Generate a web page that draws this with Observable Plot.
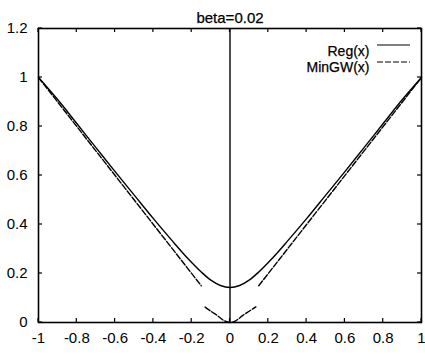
<!DOCTYPE html>
<html><head><meta charset="utf-8">
<script src="https://cdn.jsdelivr.net/npm/d3@7"></script>
<script src="https://cdn.jsdelivr.net/npm/@observablehq/plot@0.6"></script>
<style>body{margin:0;background:#fff} svg{font-family:"Liberation Sans",Arial,Helvetica,sans-serif}</style>
</head><body><div id="chart"></div>
<script>
const title = "beta=0.02";
const seriesNames = ["Reg(x)", "MinGW(x)"];
const xTicks = [-1, -0.8, -0.6, -0.4, -0.2, 0, 0.2, 0.4, 0.6, 0.8, 1];
const yTicks = [0, 0.2, 0.4, 0.6, 0.8, 1, 1.2];

const regX = [-1, -0.9, -0.8, -0.7, -0.6, -0.5, -0.4, -0.3, -0.25, -0.2, -0.15, -0.1, -0.05, 0, 0.05, 0.1, 0.15, 0.2, 0.25, 0.3, 0.4, 0.5, 0.6, 0.7, 0.8, 0.9, 1];
const regY = [1.0, 0.91, 0.812, 0.714, 0.616, 0.52, 0.424, 0.332, 0.287, 0.245, 0.206, 0.173, 0.151, 0.143, 0.151, 0.173, 0.206, 0.245, 0.287, 0.332, 0.424, 0.52, 0.616, 0.714, 0.812, 0.91, 1.0];

const mingwLeftX = [-1, -0.15];
const mingwLeftY = [1, 0.15];
const mingwCupX = [-0.13, -0.1, -0.067, -0.032, 0, 0.032, 0.067, 0.1, 0.135];
const mingwCupY = [0.063, 0.046, 0.029, 0.008, 0, 0.008, 0.029, 0.046, 0.064];
const mingwRightX = [0.15, 1];
const mingwRightY = [0.15, 1];

const toRows = (xs, ys) => xs.map((x, i) => ({x, y: ys[i]}));
const reg = toRows(regX, regY);
const mingw = [
  ...toRows(mingwLeftX, mingwLeftY).map(d => ({...d, seg: "a"})),
  ...toRows(mingwCupX, mingwCupY).map(d => ({...d, seg: "b"})),
  ...toRows(mingwRightX, mingwRightY).map(d => ({...d, seg: "c"}))
];

const regStyle = {stroke: "#000", strokeWidth: 1.4};
const mingwStyle = {stroke: "#000", strokeWidth: 1.4, strokeDasharray: "6,2"};
const textStyle = {fill: "#000", stroke: "#000", strokeWidth: 0.25, fontSize: 15};
const legendText = {...textStyle, fontSize: 14};

// legend samples, placed relative to the frame
function legendSamples(index, scales, values, dim) {
  const g = d3.create("svg:g");
  const x1 = dim.width - dim.marginRight - 44, x2 = dim.width - dim.marginRight - 11;
  [[17, regStyle], [34, mingwStyle]].forEach(([dy, s]) => {
    const y = dim.marginTop + dy;
    g.append("line").attr("x1", x1).attr("x2", x2).attr("y1", y).attr("y2", y)
      .attr("stroke", s.stroke).attr("stroke-width", 1.2)
      .attr("stroke-dasharray", s.strokeDasharray || null);
  });
  return g.node();
}

// inward ticks on all four sides (mirrored), using the plot's scales
function inwardTicks(index, scales, values, dim) {
  const g = d3.create("svg:g").attr("stroke", "#000").attr("stroke-width", 1.2);
  const L = 4;
  const top = dim.marginTop, bottom = dim.height - dim.marginBottom;
  const left = dim.marginLeft, right = dim.width - dim.marginRight;
  xTicks.forEach(t => {
    const x = scales.x(t);
    g.append("line").attr("x1", x).attr("x2", x).attr("y1", bottom).attr("y2", bottom - L);
    g.append("line").attr("x1", x).attr("x2", x).attr("y1", top).attr("y2", top + L);
  });
  yTicks.forEach(t => {
    const y = scales.y(t);
    g.append("line").attr("x1", left).attr("x2", left + L).attr("y1", y).attr("y2", y);
    g.append("line").attr("x1", right).attr("x2", right - L).attr("y1", y).attr("y2", y);
  });
  return g.node();
}

const fmt = d => String(d);

const chart = Plot.plot({
  width: 425,
  height: 354,
  marginLeft: 38,
  marginRight: 4,
  marginTop: 28,
  marginBottom: 32,
  style: {fontSize: "15px", fontFamily: "'Liberation Sans', Arial, sans-serif", color: "#000", background: "#fff"},
  x: {domain: [-1, 1]},
  y: {domain: [0, 1.2]},
  marks: [
    Plot.ruleX([0], {stroke: "#000", strokeWidth: 1.4}),
    Plot.line(reg, {x: "x", y: "y", curve: "catmull-rom", ...regStyle}),
    Plot.line(mingw, {x: "x", y: "y", z: "seg", curve: "catmull-rom", ...mingwStyle}),
    Plot.axisX(xTicks, {anchor: "bottom", tickSize: 0, tickPadding: 10, tickFormat: fmt, label: null, ...textStyle}),
    Plot.axisY(yTicks, {anchor: "left", tickSize: 0, tickPadding: 11, tickFormat: fmt, label: null, ...textStyle}),
    inwardTicks,
    Plot.frame({stroke: "#000", strokeWidth: 1.6}),
    Plot.text([title], {frameAnchor: "top", dy: -16, ...textStyle}),
    Plot.text([seriesNames[0]], {frameAnchor: "top-right", textAnchor: "end", dx: -52, dy: 18, ...legendText}),
    Plot.text([seriesNames[1]], {frameAnchor: "top-right", textAnchor: "end", dx: -52, dy: 34, ...legendText}),
    legendSamples
  ]
});
document.getElementById("chart").appendChild(chart);
</script>
</body></html>
